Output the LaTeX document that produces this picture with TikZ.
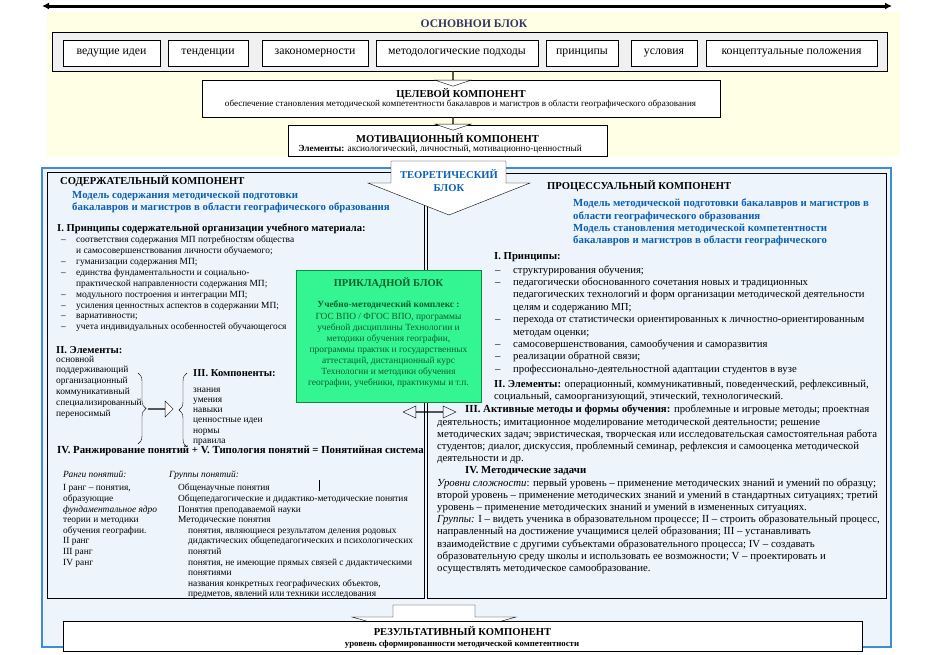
\documentclass[tikz,border=0pt]{standalone}
\usepackage{fontspec}
\setmainfont{Liberation Serif}
\usetikzlibrary{arrows.meta,shapes.arrows,decorations.pathreplacing}
\definecolor{frameblue}{HTML}{3C8DD6}
\definecolor{modelblue}{HTML}{0B5FB5}
\definecolor{applgreen}{HTML}{33F592}
\definecolor{applline}{HTML}{0E8A45}
\definecolor{appltext}{HTML}{0A5C2E}
\definecolor{basetitle}{HTML}{333366}
\definecolor{baseback}{HTML}{FFFFE6}
\definecolor{mainback}{HTML}{EDF4FB}
\newcommand{\fs}[2]{\fontsize{#1}{#2}\selectfont}
\newcommand{\dashl}{\hspace*{4pt}\makebox[15pt][l]{–}}
\newcommand{\indl}{\hspace*{19pt}}
\newcommand{\dashr}{\hspace*{1pt}\makebox[18pt][l]{–}}
\newcommand{\indr}{\hspace*{19pt}}

\begin{document}
\begin{tikzpicture}[x=1pt,y=-1pt]
\tikzset{cbox/.style = {draw, fill=white, inner sep=0pt}}
\tikzset{topbox/.style = {cbox, minimum height=26, font=\fs{11.8}{13}}}
\tikzset{txt/.style = {inner sep=0pt, align=left, anchor=north west}}
\tikzset{ttl/.style = {inner sep=0pt, anchor=base, font=\bfseries\fs{10.6}{12}}}
\tikzset{hollow/.style = {single arrow, draw, fill=white, inner sep=0pt, single arrow head indent=0pt}}
\useasboundingbox (0,0) rectangle (935,654);
% basic block
\fill[baseback] (47,12) rectangle (900,157);
\coordinate (tl) at (42,6);
\coordinate (tr) at (892,6);
\draw[line width=3, {Latex[length=7pt,width=7pt]}-{Latex[length=7pt,width=7pt]}] (tl) -- (tr);
\node[inner sep=0pt, anchor=base, font=\bfseries\fs{11.6}{13}, text=basetitle] (osnt) at (474,27.5) {ОСНОВНОИ БЛОК};
\node[draw, fill=black!6, inner sep=0pt, minimum width=835, minimum height=39, anchor=north west] (osn) at (52,32) {};
\node[topbox, minimum width=97] (idei) at (111.5,53) {ведущие идеи};
\node[topbox, minimum width=80] (tend) at (208,53) {тенденции};
\node[topbox, minimum width=106] (zak) at (315,53) {закономерности};
\node[topbox, minimum width=162] (podh) at (457,53) {методологические подходы};
\node[topbox, minimum width=72] (princ) at (582,53) {принципы};
\node[topbox, minimum width=66] (usl) at (664,53) {условия};
\node[topbox, minimum width=171] (konc) at (791.5,53) {концептуальные положения};
% target and motivation
\node[cbox, minimum width=518, minimum height=37] (cel) at (461,98.5) {};
\node[ttl] (celt) at (461,97) {ЦЕЛЕВОЙ КОМПОНЕНТ};
\node[inner sep=0pt, anchor=base, font=\fs{9.1}{10}] (celp) at (460.5,106) {обеспечение становления методической компетентности бакалавров и магистров в области географического образования};
\node[hollow, minimum width=36, minimum height=15, single arrow head extend=8, single arrow tip angle=143, shape border rotate=270, anchor=tail] (ar1) at (453,71) {};
\node[cbox, minimum width=319, minimum height=31] (mot) at (447.5,140.5) {};
\node[ttl] (mott) at (447.5,142) {МОТИВАЦИОННЫЙ КОМПОНЕНТ};
\node[inner sep=0pt, anchor=base, font=\fs{9.3}{10}] (motp) at (440,151) {\textbf{Элементы:} аксиологический, личностный, мотивационно-ценностный};
\node[hollow, minimum width=36, minimum height=13, single arrow head extend=8, single arrow tip angle=143, shape border rotate=270, anchor=tail] (ar2) at (453,117) {};
% main part
\draw[frameblue, line width=1.8, fill=mainback] (42,168) rectangle (891,647);
\node[draw, line width=0.9, inner sep=0pt, minimum width=377, minimum height=426, anchor=north west] (soder) at (47,172) {};
\node[draw, line width=0.9, inner sep=0pt, minimum width=459, minimum height=425, anchor=north west] (proc) at (427,173) {};
\draw[fill=white] (391,161) -- (506,161) -- (506,183) -- (530,183) -- (449,215) -- (368,183) -- (391,183) -- cycle;
\node[inner sep=0pt, anchor=base, font=\bfseries\fs{10.6}{12}, text=modelblue] (teor1) at (449,178) {ТЕОРЕТИЧЕСКИЙ};
\node[inner sep=0pt, anchor=base, font=\bfseries\fs{10.6}{12}, text=modelblue] (teor2) at (449,191.5) {БЛОК};
% content component
\node[inner sep=0pt, anchor=base west, font=\bfseries\fs{10.6}{12}] (sodt) at (60,184) {СОДЕРЖАТЕЛЬНЫЙ КОМПОНЕНТ};
\node[txt, font=\bfseries\fs{10.8}{12}, text=modelblue] (sodm) at (72,191) {Модель содержания методической подготовки\\ бакалавров и магистров в области географического образования};
\node[txt, font=\fs{9.4}{10.9}] (sodp) at (57,224) {\textbf{\fs{10.6}{10.9}I. Принципы содержательной организации учебного материала:}\\
\dashl соответствия содержания МП потребностям общества\\
\indl и самосовершенствования личности обучаемого;\\
\dashl гуманизации содержания МП;\\
\dashl единства фундаментальности и социально-\\
\indl практической направленности содержания МП;\\
\dashl модульного построения и интеграции МП;\\
\dashl усиления ценностных аспектов в содержании МП;\\
\dashl вариативности;\\
\dashl учета индивидуальных особенностей обучающегося};
\node[txt, font=\fs{9.4}{10.8}] (sode) at (56,346) {\textbf{\fs{10.6}{10.8}II. Элементы:}\\[-2pt]
основной\\ поддерживающий\\ организационный\\ коммуникативный\\ специализированный\\ переносимый};
\node[txt, font=\fs{9.4}{10.2}] (sodk) at (193,369) {\textbf{\fs{10.6}{10.2}III. Компоненты:}\\[6pt]
знания\\ умения\\ навыки\\ ценностные идеи\\ нормы\\ правила};
\draw[decorate, decoration={brace, amplitude=8pt}] (138,373) -- (138,444);
\draw[decorate, decoration={brace, amplitude=8pt}] (187,447) -- (187,373);
\node[hollow, minimum width=16, minimum height=25, single arrow head extend=4] (ar3) at (160.5,409) {};
\node[inner sep=0pt, anchor=base west, font=\bfseries\fs{10.8}{12}] (sodr) at (57,453) {IV. Ранжирование понятий + V. Типология понятий = Понятийная система};
\node[txt, font=\fs{9.4}{10.6}] (rang) at (63,471) {\textit{Ранги понятий:}\\[2.4pt]
I ранг – понятия,\\ образующие\\ \textit{фундаментальное ядро}\\ теории и методики\\ обучения географии.\\ II ранг\\ III ранг\\ IV ранг};
\node[txt, font=\fs{9.4}{10.6}] (grup) at (169,471) {\textit{Группы понятий:}\\[2.4pt]
\hspace*{9pt}Общенаучные понятия\\
\hspace*{9pt}Общепедагогические и дидактико-методические понятия\\
\hspace*{9pt}Понятия преподаваемой науки\\
\hspace*{9pt}Методические понятия\\
\hspace*{19pt}понятия, являющиеся результатом деления родовых\\
\hspace*{19pt}дидактических общепедагогических и психологических\\
\hspace*{19pt}понятий\\
\hspace*{19pt}понятия, не имеющие прямых связей с дидактическими\\
\hspace*{19pt}понятиями\\
\hspace*{19pt}названия конкретных географических объектов,\\
\hspace*{19pt}предметов, явлений или техники исследования};
\draw (319,480) -- (319,491);
% applied block
\node[draw=applline, fill=applgreen, inner sep=0pt, minimum width=185, minimum height=132, anchor=north west] (prikl) at (296,270) {};
\node[inner sep=0pt, anchor=base, font=\bfseries\fs{10.4}{12}, text=appltext] (prit) at (388.5,286) {ПРИКЛАДНОЙ БЛОК};
\node[inner sep=0pt, anchor=north, align=center, font=\fs{9.4}{11.1}, text=appltext] (prip) at (388.5,301) {\textbf{Учебно-методический комплекс :}\\
ГОС ВПО / ФГОС ВПО, программы\\
учебной дисциплины Технологии и\\
методики обучения географии,\\
программы практик и государственных\\
аттестаций, дистанционный курс\\
Технологии и методики обучения\\
географии, учебники, практикумы и т.п.};
\node[double arrow, draw, inner sep=0pt, minimum width=12, minimum height=53, double arrow head extend=3, double arrow tip angle=50] (ar4) at (429.5,412) {};
% process component
\node[inner sep=0pt, anchor=base west, font=\bfseries\fs{10.6}{12}] (proct) at (547,189) {ПРОЦЕССУАЛЬНЫЙ КОМПОНЕНТ};
\node[txt, font=\bfseries\fs{10.8}{12.3}, text=modelblue] (procm) at (573,199) {Модель методической подготовки бакалавров и магистров в\\ области географического образования\\ Модель становления методической компетентности\\ бакалавров и магистров в области географического};
\node[txt, font=\fs{10.7}{12.4}] (procp) at (494,252) {\textbf{I. Принципы:}\\[1.5pt]
\dashr структурирования обучения;\\
\dashr педагогически обоснованного сочетания новых и традиционных\\
\indr педагогических технологий и форм организации методической деятельности\\
\indr целям и содержанию МП;\\
\dashr перехода от статистически ориентированных к личностно-ориентированным\\
\indr методам оценки;\\
\dashr самосовершенствования, самообучения и саморазвития\\
\dashr реализации обратной связи;\\
\dashr профессионально-деятельностной адаптации студентов в вузе};
\node[txt, font=\fs{10.7}{11.6}] (proce) at (494,380) {\textbf{II. Элементы:} операционный, коммуникативный, поведенческий, рефлексивный,\\ социальный, самоорганизующий, этический, технологический.};
\node[txt, font=\fs{10.8}{12.2}] (proca) at (437,405) {\hspace*{28pt}\textbf{III. Активные методы и формы обучения:} проблемные и игровые методы; проектная\\
деятельность; имитационное моделирование методической деятельности; решение\\
методических задач; эвристическая, творческая или исследовательская самостоятельная работа\\
студентов; диалог, дискуссия, проблемный семинар, рефлексия и самооценка методической\\
деятельности и др.\\
\hspace*{28pt}\textbf{IV. Методические задачи}\\
\textit{Уровни сложности}: первый уровень – применение методических знаний и умений по образцу;\\
второй уровень – применение методических знаний и умений в стандартных ситуациях; третий\\
уровень – применение методических знаний и умений в измененных ситуациях.\\
\textit{Группы:} I – видеть ученика в образовательном процессе; II – строить образовательный процесс,\\
направленный на достижение учащимися целей образования; III – устанавливать\\
взаимодействие с другими субъектами образовательного процесса; IV – создавать\\
образовательную среду школы и использовать ее возможности; V – проектировать и\\
осуществлять методическое самообразование.};
% result component
\draw[fill=white] (393,605) -- (475,605) -- (475,617) -- (516,617) -- (434,640) -- (352,617) -- (393,617) -- cycle;
\node[cbox, minimum width=799, minimum height=30] (rez) at (462.5,636) {};
\node[ttl] (rezt) at (462.5,635) {РЕЗУЛЬТАТИВНЫЙ КОМПОНЕНТ};
\node[inner sep=0pt, anchor=base, font=\bfseries\fs{8.8}{10}] (rezp) at (462,646) {уровень сформированности методической компетентности};
\end{tikzpicture}
\end{document}
